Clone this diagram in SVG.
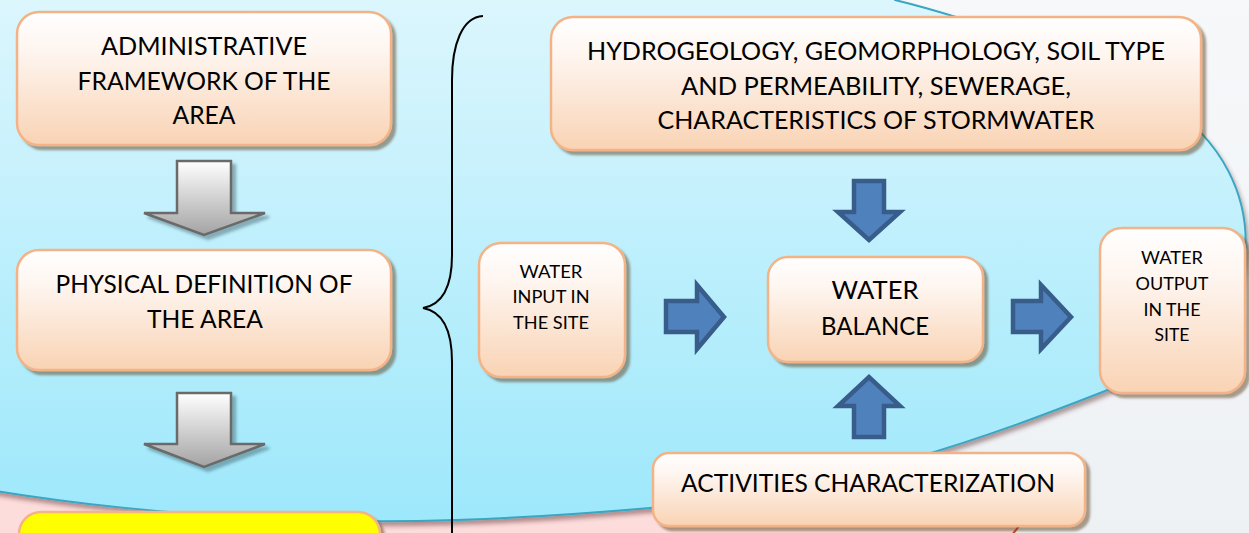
<svg xmlns="http://www.w3.org/2000/svg" width="1249" height="533" viewBox="0 0 1249 533">
<defs>
<linearGradient id="bg" x1="0" y1="0" x2="0" y2="1"><stop offset="0" stop-color="#f6f8fa"/><stop offset="1" stop-color="#eef1f4"/></linearGradient>
<linearGradient id="blob" gradientUnits="userSpaceOnUse" x1="0" y1="0" x2="0" y2="525"><stop offset="0" stop-color="#dcf6fd"/><stop offset="1" stop-color="#9de8fb"/></linearGradient>
<linearGradient id="peach" x1="0" y1="0" x2="0" y2="1"><stop offset="0" stop-color="#ffffff"/><stop offset="0.3" stop-color="#fef5ef"/><stop offset="1" stop-color="#f9d3b4"/></linearGradient>
<linearGradient id="grey" x1="0" y1="0" x2="0" y2="1"><stop offset="0" stop-color="#ffffff"/><stop offset="1" stop-color="#a3a3a3"/></linearGradient>
<filter id="sh" x="-10%" y="-10%" width="130%" height="140%"><feDropShadow dx="4" dy="4" stdDeviation="1.2" flood-color="#5b3f1c" flood-opacity="0.5"/></filter>
<filter id="gsh" x="-20%" y="-20%" width="150%" height="150%"><feDropShadow dx="4" dy="4" stdDeviation="1.5" flood-color="#3d5b66" flood-opacity="0.45"/></filter>
<filter id="bsh" x="-5%" y="-5%" width="110%" height="120%"><feDropShadow dx="2" dy="4" stdDeviation="2" flood-color="#5a2f2a" flood-opacity="0.45"/></filter>
</defs>
<style>
.box{fill:url(#peach);stroke:#f4b386;stroke-width:2.5;filter:url(#sh)}
.t{font-family:Lato,"Liberation Sans",sans-serif;font-size:25px;fill:#000;text-anchor:middle}
.s{font-family:Lato,"Liberation Sans",sans-serif;font-size:18px;fill:#000;text-anchor:middle}
.barr{fill:#4f81bd;stroke:#385d8a;stroke-width:4.5;stroke-linejoin:miter}
.garr{fill:url(#grey);stroke:#6a6a6a;stroke-width:2.5;filter:url(#gsh)}
</style>
<rect width="1249" height="533" fill="url(#bg)"/>
<g id="background">
<path d="M-10,470 L1050,470 L1040,505 L1005,545 L-10,545 Z" fill="#fddcdc"/>
<path d="M1030,512 L1008,540" stroke="#d0472a" stroke-width="2" fill="none"/>
<path d="M-10,-10 L890,-10 L895,0 C960,16 1080,55 1160,100 C1225,140 1250,200 1245,255 C1240,330 1160,370 1100,393 C1000,432 850,490 650,508 C500,521 400,523 300,520 C160,514 70,503 -10,490 Z" fill="url(#blob)" stroke="#3aa6c1" stroke-width="2" filter="url(#bsh)"/>
</g>
<g id="brace">
<path d="M483,16 C462,17 452,45 452,80 L452,255 C452,290 440,305 423,308 C440,311 452,326 452,362 L452,540" fill="none" stroke="#000" stroke-width="2"/>
</g>
<g id="connectors">
<polygon class="garr" points="177,161 231,161 231,213 265,213 204,235 144,213 177,213"/>
<polygon class="garr" points="177,393 231,393 231,444 265,444 204,467 144,444 177,444"/>
<polygon class="barr" points="854,181 884,181 884,212 900,212 869,240 838,212 854,212"/>
<polygon class="barr" points="854,437 884,437 884,406 900,406 869,377 838,406 854,406"/>
<polygon class="barr" points="666,301 697,301 697,285 724,317 697,349 697,332 666,332"/>
<polygon class="barr" points="1013,301 1041,301 1041,285 1071,317 1041,349 1041,332 1013,332"/>
</g>
<g id="n-admin">
<rect class="box" x="17" y="12" width="374" height="133" rx="22"/>
<text class="t" x="204" y="55" textLength="206" lengthAdjust="spacingAndGlyphs">ADMINISTRATIVE</text>
<text class="t" x="204" y="90" textLength="253" lengthAdjust="spacingAndGlyphs">FRAMEWORK OF THE</text>
<text class="t" x="204" y="124" textLength="63" lengthAdjust="spacingAndGlyphs">AREA</text>
</g>
<g id="n-physical">
<rect class="box" x="17" y="250" width="374" height="120" rx="22"/>
<text class="t" x="204" y="293" textLength="297" lengthAdjust="spacingAndGlyphs">PHYSICAL DEFINITION OF</text>
<text class="t" x="205" y="328" textLength="116" lengthAdjust="spacingAndGlyphs">THE AREA</text>
</g>
<g id="n-yellow">
<rect x="19" y="512" width="361" height="60" rx="22" fill="#ffff00" stroke="#f4b386" stroke-width="2.5" filter="url(#sh)"/>
</g>
<g id="n-hydro">
<rect class="box" x="551" y="17" width="650" height="133" rx="22"/>
<text class="t" x="876" y="60" textLength="578" lengthAdjust="spacingAndGlyphs">HYDROGEOLOGY, GEOMORPHOLOGY, SOIL TYPE</text>
<text class="t" x="876" y="95" textLength="390" lengthAdjust="spacingAndGlyphs">AND PERMEABILITY, SEWERAGE,</text>
<text class="t" x="876" y="129" textLength="437" lengthAdjust="spacingAndGlyphs">CHARACTERISTICS OF STORMWATER</text>
</g>
<g id="n-input">
<rect class="box" x="479" y="243" width="146" height="134" rx="22"/>
<text class="s" x="551" y="278" textLength="63" lengthAdjust="spacingAndGlyphs">WATER</text>
<text class="s" x="551" y="303" textLength="77" lengthAdjust="spacingAndGlyphs">INPUT IN</text>
<text class="s" x="551" y="329" textLength="76" lengthAdjust="spacingAndGlyphs">THE SITE</text>
</g>
<g id="n-balance">
<rect class="box" x="768" y="257" width="215" height="105" rx="20"/>
<text class="t" x="875" y="299" textLength="87" lengthAdjust="spacingAndGlyphs">WATER</text>
<text class="t" x="875" y="335" textLength="108" lengthAdjust="spacingAndGlyphs">BALANCE</text>
</g>
<g id="n-output">
<rect class="box" x="1100" y="228" width="145" height="165" rx="22"/>
<text class="s" x="1172" y="264" textLength="62" lengthAdjust="spacingAndGlyphs">WATER</text>
<text class="s" x="1172" y="290" textLength="73" lengthAdjust="spacingAndGlyphs">OUTPUT</text>
<text class="s" x="1172" y="316" textLength="57" lengthAdjust="spacingAndGlyphs">IN THE</text>
<text class="s" x="1172" y="341" textLength="35" lengthAdjust="spacingAndGlyphs">SITE</text>
</g>
<g id="n-activities">
<rect class="box" x="653" y="453" width="432" height="73" rx="16"/>
<text class="t" x="868" y="492" textLength="374" lengthAdjust="spacingAndGlyphs">ACTIVITIES CHARACTERIZATION</text>
</g>
</svg>
